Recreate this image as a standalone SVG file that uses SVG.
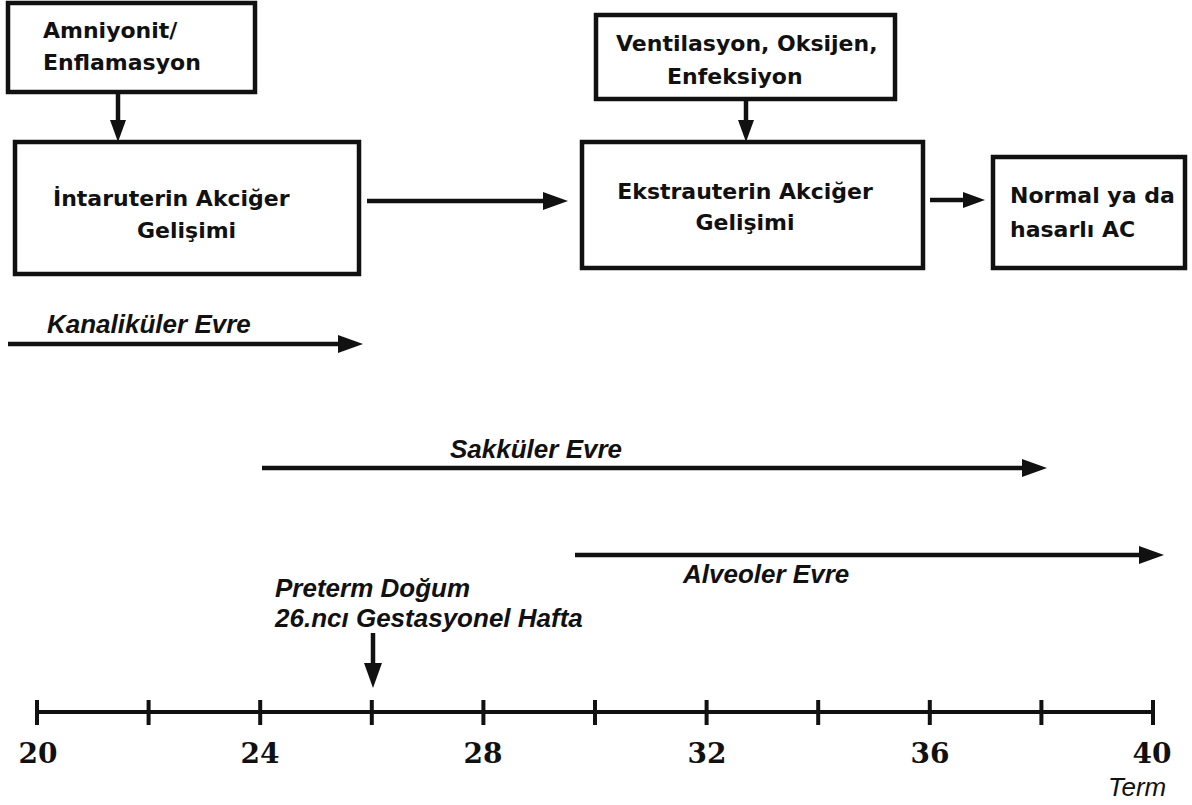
<svg xmlns="http://www.w3.org/2000/svg" width="1192" height="805" viewBox="0 0 1192 805">
<defs>
<style>
.box{fill:#fff;stroke:#111;stroke-width:4.5}
.bt{font-family:"DejaVu Sans",sans-serif;font-weight:bold;font-size:22px;fill:#111}
.it{font-family:"Liberation Sans",Arial,sans-serif;font-style:italic;font-weight:bold;font-size:26px;fill:#111}
.term{font-family:"Liberation Sans",Arial,sans-serif;font-style:italic;font-size:26px;fill:#111}
.num{font-family:"DejaVu Serif",serif;font-weight:bold;font-size:28px;fill:#111;text-anchor:middle}
.ln{stroke:#111;stroke-width:4.5;fill:none}
.ax{stroke:#111;stroke-width:4;fill:none}
</style>
<marker id="ah" markerUnits="userSpaceOnUse" markerWidth="26" markerHeight="18" refX="12" refY="9" orient="auto" overflow="visible">
<path d="M0,0 L25,9 L0,18 z" fill="#111"/>
</marker>
<marker id="ahs" markerUnits="userSpaceOnUse" markerWidth="22" markerHeight="16" refX="10" refY="8" orient="auto" overflow="visible">
<path d="M0,0 L22,8 L0,16 z" fill="#111"/>
</marker>
</defs>
<rect width="1192" height="805" fill="#fff"/>

<g id="node-amniyonit">
<rect class="box" x="8" y="3" width="247" height="89"/>
<text class="bt" x="43" y="38">Amniyonit/</text>
<text class="bt" x="43" y="70">Enflamasyon</text>
</g>

<g id="node-intrauterin">
<rect class="box" x="15" y="142" width="344" height="132"/>
<text class="bt" x="53" y="206">İntaruterin Akciğer</text>
<text class="bt" x="137" y="238">Gelişimi</text>
</g>

<g id="node-ventilasyon">
<rect class="box" x="596" y="15" width="299" height="84"/>
<text class="bt" x="616" y="51">Ventilasyon, Oksijen,</text>
<text class="bt" x="667" y="84">Enfeksiyon</text>
</g>

<g id="node-ekstrauterin">
<rect class="box" x="582" y="142" width="341" height="126"/>
<text class="bt" x="745" y="199" text-anchor="middle">Ekstrauterin Akciğer</text>
<text class="bt" x="745" y="230" text-anchor="middle">Gelişimi</text>
</g>

<g id="node-normal">
<rect class="box" x="993" y="157" width="192" height="111"/>
<text class="bt" x="1010" y="203">Normal ya da</text>
<text class="bt" x="1010" y="237">hasarlı AC</text>
</g>

<g id="connectors">
<line class="ln" x1="118" y1="92" x2="118" y2="130" marker-end="url(#ahs)"/>
<line class="ln" x1="746" y1="99" x2="746" y2="130" marker-end="url(#ahs)"/>
<line class="ln" x1="367" y1="201" x2="555" y2="201" marker-end="url(#ah)"/>
<line class="ln" x1="930" y1="200" x2="973" y2="200" marker-end="url(#ahs)"/>
<line class="ln" x1="8" y1="344" x2="350" y2="344" marker-end="url(#ah)"/>
<line class="ln" x1="262" y1="468" x2="1034" y2="468" marker-end="url(#ah)"/>
<line class="ln" x1="575" y1="555" x2="1151" y2="555" marker-end="url(#ah)"/>
<line class="ln" x1="373" y1="633" x2="373" y2="675" marker-end="url(#ah)"/>
</g>

<g id="labels">
<text class="it" x="47" y="333">Kanaliküler Evre</text>
<text class="it" x="450" y="458">Sakküler Evre</text>
<text class="it" x="683" y="583">Alveoler Evre</text>
<text class="it" x="275" y="597">Preterm Doğum</text>
<text class="it" x="275" y="627">26.ncı Gestasyonel Hafta</text>
</g>

<g id="axis">
<line class="ax" x1="37" y1="712" x2="1153" y2="712"/>
<path class="ax" d="M37,700V725M148.6,700V725M260.2,700V725M371.8,700V725M483.4,700V725M595,700V725M706.6,700V725M818.2,700V725M929.8,700V725M1041.4,700V725M1153,700V725"/>
<text class="num" x="38" y="763">20</text>
<text class="num" x="260" y="763">24</text>
<text class="num" x="483" y="763">28</text>
<text class="num" x="707" y="763">32</text>
<text class="num" x="930" y="763">36</text>
<text class="num" x="1152" y="763">40</text>
<text class="term" x="1108" y="796">Term</text>
</g>
</svg>
